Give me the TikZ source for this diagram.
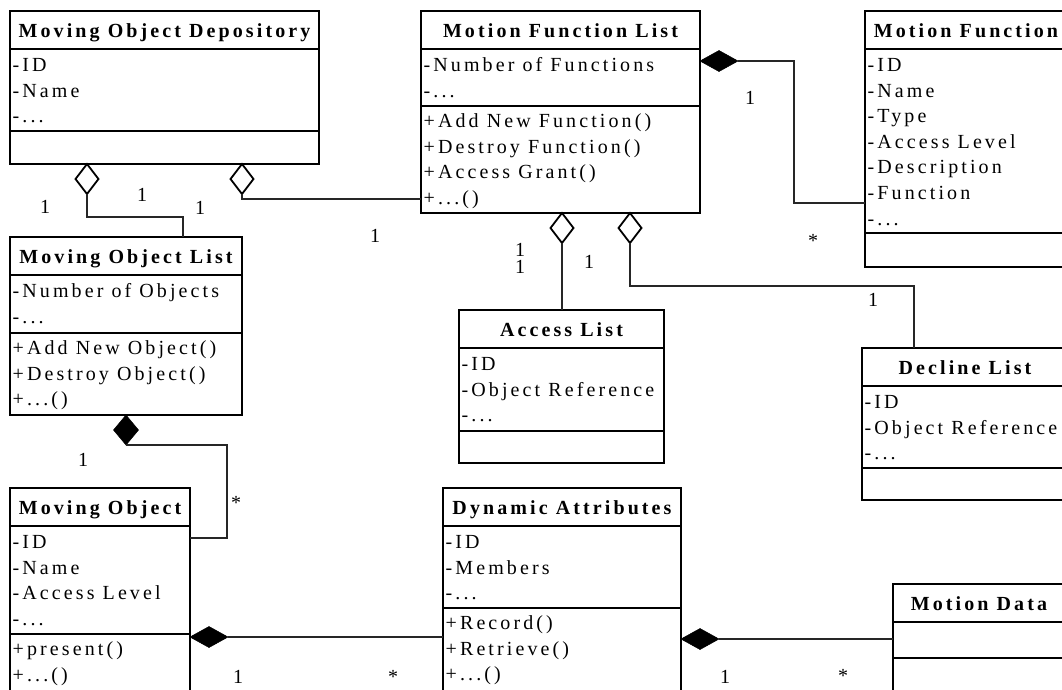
\documentclass[tikz,border=0pt]{standalone}
\usepackage{fontspec}
\setmainfont{Liberation Serif}[LetterSpace=15.5]
\usetikzlibrary{shapes.geometric}
\newcommand\tdots{...}
\newcommand\umlfont{\fontsize{20pt}{25pt}\selectfont}
\tikzset{
  box/.style={draw=black, line width=2.2pt, inner sep=0pt, outer sep=0pt},
  sepline/.style={draw=black, line width=2pt},
  ttl/.style={font=\umlfont\bfseries, inner sep=0pt, anchor=base},
  item/.style={font=\umlfont, inner sep=0pt, anchor=base west},
  mult/.style={font=\umlfont, inner sep=0pt, anchor=base},
  conn/.style={draw=black!85, line width=1.4pt},
  odia/.style={diamond, draw=black, fill=white, line width=1.8pt, minimum width=23pt, minimum height=30pt, inner sep=0pt, outer sep=0pt},
  fvdia/.style={diamond, draw=black, fill=black, line width=0.5pt, minimum width=25pt, minimum height=30pt, inner sep=0pt, outer sep=0pt},
  fhdia/.style={diamond, draw=black, fill=black, line width=0.5pt, minimum width=38pt, minimum height=21pt, inner sep=0pt, outer sep=0pt},
}
\newcommand\umlclass[7]{%
  \node[box, anchor=north west, minimum width=#4pt, minimum height=#5pt] (#1) at (#2,#3) {};
  \draw[sepline] ([yshift=-38pt]#1.north west) -- ([yshift=-38pt]#1.north east);
  \draw[sepline] ([yshift=-#6pt]#1.north west) -- ([yshift=-#6pt]#1.north east);
  \node[ttl] (#1-t) at ([yshift=-26pt]#1.north) {#7};
}
\newcommand\umlattrs[2]{%
  \foreach \itm [count=\i] in {#2} {
    \node[item] (#1-a\i) at ([xshift=2.5pt, yshift={-(60.5+(\i-1)*25.6)*1pt}]#1.north west) {\itm};
  }
}
\newcommand\umlmeths[3]{%
  \foreach \itm [count=\i] in {#3} {
    \node[item] (#1-m\i) at ([xshift=2.5pt, yshift={-(#2+21.5+(\i-1)*25.6)*1pt}]#1.north west) {\itm};
  }
}
\begin{document}
\begin{tikzpicture}[x=1pt,y=-1pt]
\useasboundingbox (0,0) rectangle (1062,689);
\clip (0,0) rectangle (1062,689);

% classes
\umlclass{mod}{10}{11}{309}{153}{120}{Moving Object Depository}
\umlattrs{mod}{-ID,-Name,-\tdots}

\umlclass{mfl}{421}{11}{279}{202}{95}{Motion Function List}
\umlattrs{mfl}{-Number of Functions,-\tdots}
\umlmeths{mfl}{95}{+Add New Function(),+Destroy Function(),+Access Grant(),+\tdots()}

\umlclass{mf}{865}{11}{202}{256}{222}{Motion Function}
\umlattrs{mf}{-ID,-Name,-Type,-Access Level,-Description,-Function,-\tdots}

\umlclass{mol}{10}{237}{232}{178}{96}{Moving Object List}
\umlattrs{mol}{-Number of Objects,-\tdots}
\umlmeths{mol}{96}{+Add New Object(),+Destroy Object(),+\tdots()}

\umlclass{al}{459}{310}{205}{153}{121}{Access List}
\umlattrs{al}{-ID,-Object Reference,-\tdots}

\umlclass{dl}{862}{348}{206}{152}{120}{Decline List}
\umlattrs{dl}{-ID,-Object Reference,-\tdots}

\umlclass{mo}{10}{488}{180}{230}{146}{Moving Object}
\umlattrs{mo}{-ID,-Name,-Access Level,-\tdots}
\umlmeths{mo}{146}{+present(),+\tdots()}

\umlclass{da}{443}{488}{238}{230}{120}{Dynamic Attributes}
\umlattrs{da}{-ID,-Members,-\tdots}
\umlmeths{da}{120}{+Record(),+Retrieve(),+\tdots()}

\umlclass{md}{893}{584}{172}{150}{74}{Motion Data}

% diamonds
\node[odia, anchor=north] (d1) at ([xshift=77pt]mod.south west) {};
\node[odia, anchor=north] (d2) at ([xshift=232pt]mod.south west) {};
\node[fhdia, anchor=west] (d3) at ([yshift=-50pt]mfl.north east) {};
\node[odia, anchor=north] (d4) at ([xshift=141pt]mfl.south west) {};
\node[odia, anchor=north] (d5) at ([xshift=209pt]mfl.south west) {};
\node[fvdia, anchor=north] (d6) at ([xshift=116pt]mol.south west) {};
\node[fhdia, anchor=west] (d7) at ([yshift=-149pt]mo.north east) {};
\node[fhdia, anchor=west] (d8) at ([yshift=-151pt]da.north east) {};

% connectors
\draw[conn] (d1.south) -- ++(0,23) -| ([xshift=173pt]mol.north west);
\draw[conn] (d2.south) |- ([yshift=-188pt]mfl.north west);
\draw[conn] (d3.east) -- ++(56,0) |- ([yshift=-192pt]mf.north west);
\draw[conn] (d4.south) -- (d4.south |- al.north);
\draw[conn] (d5.south) -- ++(0,43) -| ([xshift=52pt]dl.north west);
\draw[conn] (d6.south) -- ++(101,0) |- ([yshift=-50pt]mo.north east);
\draw[conn] (d7.east) -- (d7.east -| da.west);
\draw[conn] (d8.east) -- (d8.east -| md.west);

% multiplicities
\node[mult] (l1) at (45,213.5) {1};
\node[mult] (l2) at (142,201.5) {1};
\node[mult] (l3) at (200,214.5) {1};
\node[mult] (l4) at (375,242.5) {1};
\node[mult] (l5) at (750,104.5) {1};
\node[mult] (l6) at (813,247) {*};
\node[mult] (l7) at (520,256.5) {1};
\node[mult] (l8) at (520,273.5) {1};
\node[mult] (l9) at (589,268.5) {1};
\node[mult] (l10) at (873,306.5) {1};
\node[mult] (l11) at (83,466.5) {1};
\node[mult] (l12) at (236,509) {*};
\node[mult] (l13) at (238,683.5) {1};
\node[mult] (l14) at (393,683) {*};
\node[mult] (l15) at (725,683.5) {1};
\node[mult] (l16) at (843,682) {*};
\end{tikzpicture}
\end{document}
